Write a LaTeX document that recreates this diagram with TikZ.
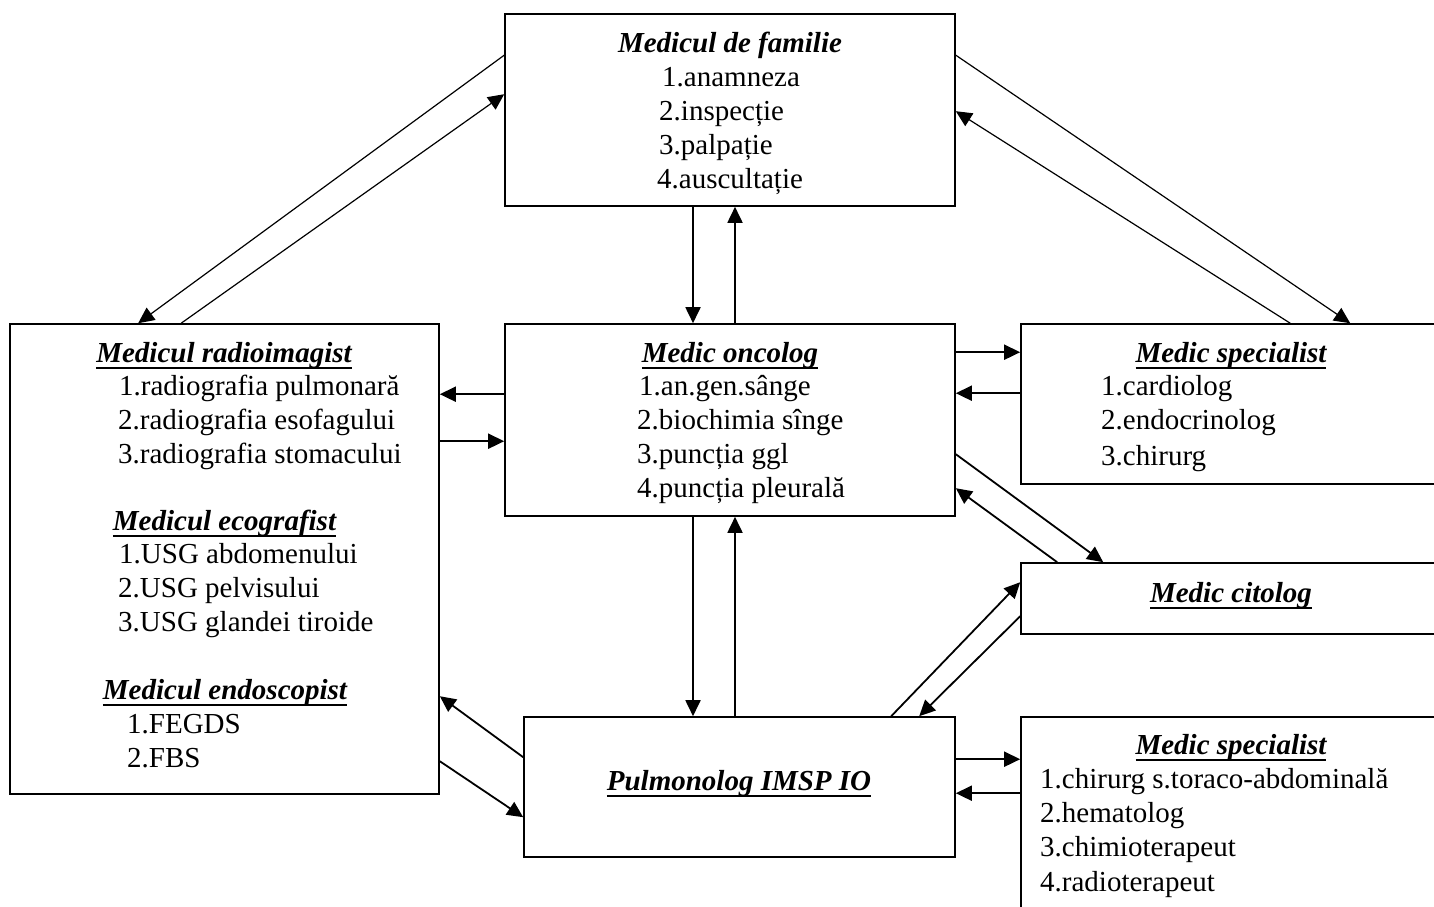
\documentclass[tikz,border=0pt]{standalone}
\usepackage{fontspec}
\setmainfont{Liberation Serif}
\usetikzlibrary{arrows.meta,positioning}
\newcommand{\uhead}[1]{\setbox0\hbox{#1}\rlap{\rule[-7pt]{\wd0}{2pt}}\box0}

\tikzset{
  box/.style={draw, line width=1.6pt, inner sep=0pt},
  item/.style={anchor=base west, inner sep=0pt, font=\fontsize{29pt}{34pt}\selectfont},
  head/.style={anchor=base, inner sep=0pt, font=\fontsize{29pt}{34pt}\selectfont\bfseries\itshape},
  link/.style={->, line width=1.8pt},
  thinlink/.style={->, line width=1.2pt},
}

\begin{document}
\begin{tikzpicture}[x=1pt, y=-1pt, >={Triangle[length=16pt,width=15pt]}]

    \useasboundingbox (0,0) rectangle (1434,906);
    \clip (0,0) rectangle (1434,906);

    % boxes
    \node[box, minimum width=450pt, minimum height=192pt] (fam) at (730,110) {};
    \node[box, minimum width=429pt, minimum height=470pt] (radio) at (224.5,559) {};
    \node[box, minimum width=450pt, minimum height=192pt] (onc) at (730,420) {};
    \node[box, minimum width=449pt, minimum height=160pt] (specA) at (1245.5,404) {};
    \node[box, minimum width=449pt, minimum height=71pt] (cito) at (1245.5,598.5) {};
    \node[box, minimum width=431pt, minimum height=140pt] (pulm) at (739.5,787) {};
    \node[box, minimum width=449pt, minimum height=233pt] (specB) at (1245.5,833.5) {};

    % medicul de familie
    \node[head] (famT) at (730,52) {Medicul de familie};
    \node[item] (fam1) at (662,86) {1.anamneza};
    \node[item] (fam2) at (659,120) {2.inspecție};
    \node[item] (fam3) at (659,154) {3.palpație};
    \node[item] (fam4) at (657,188) {4.auscultație};

    % medic oncolog
    \node[head] (oncT) at (730,362) {\uhead{Medic oncolog}};
    \node[item] (onc1) at (639,395) {1.an.gen.sânge};
    \node[item] (onc2) at (637,429) {2.biochimia sînge};
    \node[item] (onc3) at (637,463) {3.puncția ggl};
    \node[item] (onc4) at (637,497) {4.puncția pleurală};

    % radioimagist, ecografist, endoscopist
    \node[head] (radT) at (224,362) {\uhead{Medicul radioimagist}};
    \node[item] (rad1) at (119,395) {1.radiografia pulmonară};
    \node[item] (rad2) at (118,429) {2.radiografia esofagului};
    \node[item] (rad3) at (118,463) {3.radiografia stomacului};
    \node[head] (ecoT) at (224.5,530) {\uhead{Medicul ecografist}};
    \node[item] (eco1) at (119,563) {1.USG abdomenului};
    \node[item] (eco2) at (118,597) {2.USG pelvisului};
    \node[item] (eco3) at (118,631) {3.USG glandei tiroide};
    \node[head] (endT) at (225,699) {\uhead{Medicul endoscopist}};
    \node[item] (end1) at (127,733) {1.FEGDS};
    \node[item] (end2) at (127,767) {2.FBS};

    % specialisti, citolog, pulmonolog
    \node[head] (specAT) at (1231,362) {\uhead{Medic specialist}};
    \node[item] (specA1) at (1101,395) {1.cardiolog};
    \node[item] (specA2) at (1101,429) {2.endocrinolog};
    \node[item] (specA3) at (1101,465) {3.chirurg};
    \node[head] (citoT) at (1231,602) {\uhead{Medic citolog}};
    \node[head] (pulmT) at (739,790) {\uhead{Pulmonolog IMSP IO}};
    \node[head] (specBT) at (1231,754) {\uhead{Medic specialist}};
    \node[item] (specB1) at (1040,788) {1.chirurg s.toraco-abdominală};
    \node[item] (specB2) at (1040,822) {2.hematolog};
    \node[item] (specB3) at (1040,856) {3.chimioterapeut};
    \node[item] (specB4) at (1040,891) {4.radioterapeut};

    % legaturi de sus
    \draw[thinlink] ([yshift=-42pt]fam.north west) -- ([xshift=129pt]radio.north west);
    \draw[thinlink] ([xshift=172pt]radio.north west) -- ([yshift=-81pt]fam.north west);
    \draw[thinlink] ([yshift=-42pt]fam.north east) -- ([xshift=330pt]specA.north west);
    \draw[thinlink] ([xshift=270pt]specA.north west) -- ([yshift=-98pt]fam.north east);

    \draw[link] ([xshift=-37pt]fam.south) -- ([xshift=-37pt]onc.north);
    \draw[link] ([xshift=5pt]onc.north) -- ([xshift=5pt]fam.south);

    % legaturi oncolog
    \draw[link] ([yshift=-71pt]onc.north west) -- ([yshift=-71pt]radio.north east);
    \draw[link] ([yshift=-118pt]radio.north east) -- ([yshift=-118pt]onc.north west);
    \draw[link] ([yshift=-29pt]onc.north east) -- ([yshift=-29pt]specA.north west);
    \draw[link] ([yshift=-70pt]specA.north west) -- ([yshift=-70pt]onc.north east);
    \draw[link] ([yshift=-131pt]onc.north east) -- ([xshift=83pt]cito.north west);
    \draw[link] ([xshift=37pt]cito.north west) -- ([yshift=-165pt]onc.north east);
    \draw[link] ([xshift=-37pt]onc.south) -- ([xshift=-46.5pt]pulm.north);
    \draw[link] ([xshift=-4.5pt]pulm.north) -- ([xshift=5pt]onc.south);

    % legaturi pulmonolog
    \draw[link] ([xshift=368pt]pulm.north west) -- ([yshift=-20pt]cito.north west);
    \draw[link] ([yshift=-54pt]cito.north west) -- ([xshift=396pt]pulm.north west);
    \draw[link] ([yshift=-41pt]pulm.north west) -- ([yshift=-373pt]radio.north east);
    \draw[link] ([yshift=-438pt]radio.north east) -- ([yshift=-101pt]pulm.north west);
    \draw[link] ([yshift=-43pt]pulm.north east) -- ([yshift=-43pt]specB.north west);
    \draw[link] ([yshift=-77pt]specB.north west) -- ([yshift=-77pt]pulm.north east);

\end{tikzpicture}
\end{document}
